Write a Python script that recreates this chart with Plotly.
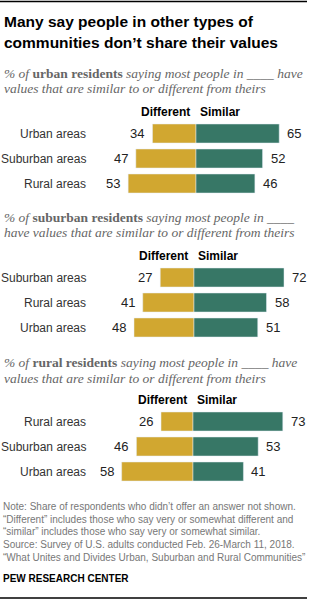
import plotly.graph_objects as go

W, H = 309, 600

title_lines = ["Many say people in other types of", "communities don’t share their values"]

group_words = ["urban residents", "suburban residents", "rural residents"]
sub_line1_tail = [" saying most people in ____ have", " saying most people in ____", " saying most people in ____ have"]
sub_line2 = ["values that are similar to or different from theirs",
             "have values that are similar to or different from theirs",
             "values that are similar to or different from theirs"]

cats1 = ["Urban areas", "Suburban areas", "Rural areas"]
diff1 = [34, 47, 53]
sim1 = [65, 52, 46]

cats2 = ["Suburban areas", "Rural areas", "Urban areas"]
diff2 = [27, 41, 48]
sim2 = [72, 58, 51]

cats3 = ["Rural areas", "Suburban areas", "Urban areas"]
diff3 = [26, 46, 58]
sim3 = [73, 53, 41]

col_labels = ["Different", "Similar"]

notes = [
    "Note: Share of respondents who didn’t offer an answer not shown.",
    "“Different” includes those who say very or somewhat different and",
    "“similar” includes those who say very or somewhat similar.",
    "Source: Survey of U.S. adults conducted Feb. 26-March 11, 2018.",
    "“What Unites and Divides Urban, Suburban and Rural Communities”",
]
source_label = "PEW RESEARCH CENTER"

GOLD = "#D1A730"
GREEN = "#377766"
SANS = "Liberation Sans, Arial, sans-serif"
SERIF = "Liberation Serif, Times New Roman, serif"

panels = [(cats1, diff1, sim1), (cats2, diff2, sim2), (cats3, diff3, sim3)]
# layout geometry (pixels)
zero_px = [196, 194, 193]
scale_px = [1.28, 1.25, 1.23]
row_top = [121, 265, 409]
header_y = [112, 256, 400]
sub_y = [(73, 88), (218, 233), (362, 378)]
R = 75

def py(p):
    return 1 - p / H

fig = go.Figure()
annotations = []
for i, (cats, diff, sim) in enumerate(panels):
    k = "" if i == 0 else str(i + 1)
    xa, ya = "x" + k, "y" + k
    fig.add_trace(go.Bar(y=cats, x=[-d for d in diff], orientation="h", marker_color=GOLD,
                         xaxis=xa, yaxis=ya, hoverinfo="skip", showlegend=False))
    fig.add_trace(go.Bar(y=cats, x=sim, orientation="h", marker_color=GREEN,
                         xaxis=xa, yaxis=ya, hoverinfo="skip", showlegend=False))
    z, s = zero_px[i], scale_px[i]
    xdom = [(z - R * s) / W, (z + R * s) / W]
    ydom = [py(row_top[i] + 75), py(row_top[i])]
    fig.update_layout(**{
        "xaxis" + k: dict(domain=xdom, range=[-R, R], visible=False, anchor=ya, fixedrange=True),
        "yaxis" + k: dict(domain=ydom, visible=False, anchor=xa, autorange="reversed",
                          categoryorder="array", categoryarray=cats, fixedrange=True),
    })
    for c, d, sv in zip(cats, diff, sim):
        annotations.append(dict(xref="paper", yref=ya, x=88 / W, y=c, text=c, showarrow=False,
                                xanchor="right", yanchor="middle",
                                font=dict(family=SANS, size=12, color="#333")))
        annotations.append(dict(xref=xa, yref=ya, x=-d, y=c, text=str(d), showarrow=False,
                                xanchor="right", yanchor="middle", xshift=-6,
                                font=dict(family=SANS, size=13, color="#222")))
        annotations.append(dict(xref=xa, yref=ya, x=sv, y=c, text=str(sv), showarrow=False,
                                xanchor="left", yanchor="middle", xshift=6,
                                font=dict(family=SANS, size=13, color="#222")))
    annotations.append(dict(xref=xa, yref="paper", x=0, y=py(header_y[i]), text="<b>" + col_labels[0] + "</b>",
                            showarrow=False, xanchor="right", yanchor="middle", xshift=-4,
                            font=dict(family=SANS, size=12, color="#000")))
    annotations.append(dict(xref=xa, yref="paper", x=0, y=py(header_y[i]), text="<b>" + col_labels[1] + "</b>",
                            showarrow=False, xanchor="left", yanchor="middle", xshift=2,
                            font=dict(family=SANS, size=12, color="#000")))
    # subtitle
    annotations.append(dict(xref="paper", yref="paper", x=2 / W, y=py(sub_y[i][0]),
                            text="<i>% of </i><b>" + group_words[i] + "</b><i>" + sub_line1_tail[i] + "</i>",
                            showarrow=False, xanchor="left", yanchor="middle",
                            font=dict(family=SERIF, size=13.5, color="#666")))
    annotations.append(dict(xref="paper", yref="paper", x=2 / W, y=py(sub_y[i][1]),
                            text="<i>" + sub_line2[i] + "</i>",
                            showarrow=False, xanchor="left", yanchor="middle",
                            font=dict(family=SERIF, size=13.5, color="#666")))

# title
for j, (t, yy) in enumerate(zip(title_lines, [21, 43])):
    annotations.append(dict(xref="paper", yref="paper", x=2 / W, y=py(yy), text="<b>" + t + "</b>",
                            showarrow=False, xanchor="left", yanchor="middle",
                            font=dict(family=SANS, size=15.5, color="#000")))

# notes
for t, yy in zip(notes, [506, 519, 531, 544, 557]):
    annotations.append(dict(xref="paper", yref="paper", x=1 / W, y=py(yy), text=t,
                            showarrow=False, xanchor="left", yanchor="middle",
                            font=dict(family=SANS, size=10, color="#777")))
annotations.append(dict(xref="paper", yref="paper", x=1 / W, y=py(578), text="<b>" + source_label + "</b>",
                        showarrow=False, xanchor="left", yanchor="middle",
                        font=dict(family=SANS, size=10, color="#000")))

shapes = [
    dict(type="line", xref="paper", yref="paper", x0=0, x1=307 / W, y0=py(1.5), y1=py(1.5),
         line=dict(color="#000", width=1.5)),
    dict(type="line", xref="paper", yref="paper", x0=0, x1=307 / W, y0=py(598), y1=py(598),
         line=dict(color="#000", width=1.5)),
]

fig.update_layout(width=W, height=H, margin=dict(l=0, r=0, t=0, b=0),
                  paper_bgcolor="white", plot_bgcolor="white",
                  barmode="relative", bargap=0.24,
                  annotations=annotations, shapes=shapes)

fig.write_html("out.html", config={"displayModeBar": False})
